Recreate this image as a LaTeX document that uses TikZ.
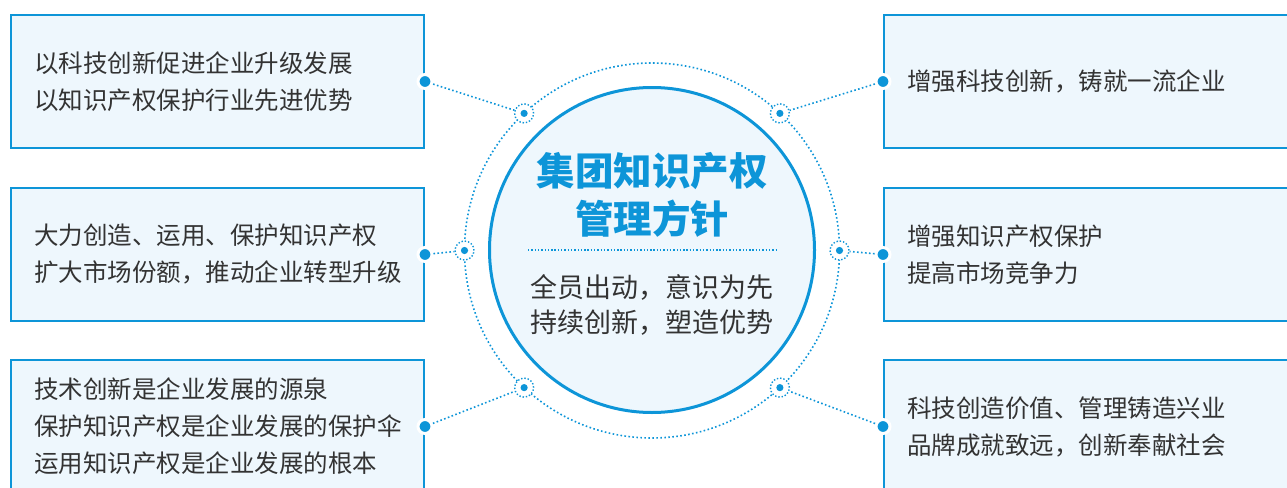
\documentclass[tikz,border=0pt]{standalone}
\usepackage{fontspec}
\setmainfont{Noto Sans CJK SC}
\usepackage{xcolor}
\usetikzlibrary{positioning}
\definecolor{ipblue}{HTML}{0D95D8}
\definecolor{ipfill}{HTML}{EEF7FD}
\definecolor{iptext}{HTML}{333333}

\begin{document}
\begin{tikzpicture}[x=1pt, y=-1pt,
    infobox/.style={draw=ipblue, line width=2pt, fill=ipfill, minimum
      width=413pt, minimum height=133pt, text width=367pt, inner xsep=23pt,
      align=left, text=iptext, font=\fontsize{24.5}{37}\selectfont},
    core/.style={circle, draw=ipblue, line width=3pt, fill=ipfill,
      minimum size=325pt, inner sep=0pt},
    ring/.style={circle, draw=ipblue, line width=1.6pt, dash pattern=on
      1.6pt off 2.4pt, minimum size=375pt, inner sep=0pt, outer sep=0pt},
    hub/.style={circle, draw=ipblue, line width=1.4pt, dash pattern=on
      1.4pt off 1.9pt, fill=white, minimum size=19pt, inner sep=0pt},
    pindot/.style={circle, fill=ipblue, draw=white, line width=3pt,
      minimum size=14pt, inner sep=0pt},
    link/.style={ipblue, line width=1.6pt, dash pattern=on 1.6pt off 2.4pt},
    sepline/.style={ipblue, line width=1.4pt, dash pattern=on 1.4pt off 1.9pt},
    title/.style={align=center, text=ipblue, font=\bfseries\fontsize{38.5}{48}\selectfont},
    motto/.style={align=center, text=iptext, font=\fontsize{27}{35}\selectfont}
  ]
  \clip (0,0) rectangle (1287,487);

  % left column
  \node[infobox, anchor=north west] (lt) at (10,14)
    {以科技创新促进企业升级发展\\以知识产权保护行业先进优势};
  \node[infobox, below=38pt of lt] (lm)
    {大力创造、运用、保护知识产权\\扩大市场份额，推动企业转型升级};
  \node[infobox, below=37pt of lm] (lb)
    {技术创新是企业发展的源泉\\保护知识产权是企业发展的保护伞\\运用知识产权是企业发展的根本};

  % right column
  \node[infobox, anchor=north west] (rt) at (883,14)
    {增强科技创新，铸就一流企业};
  \node[infobox, below=38pt of rt] (rm)
    {增强知识产权保护\\提高市场竞争力};
  \node[infobox, below=37pt of rm] (rb)
    {科技创造价值、管理铸造兴业\\品牌成就致远，创新奉献社会};

  % centre
  \node[ring] (ring) at (652,250.5) {};
  \node[core] (core) at (652,250) {};
  \node[title] (title) at (652,195) {集团知识产权\\管理方针};
  \coordinate (sepl) at (528,250);
  \coordinate (sepr) at (778,250);
  \draw[sepline] (sepl) -- (sepr);
  \node[motto] (motto) at (652,305) {全员出动，意识为先\\持续创新，塑造优势};

  % hubs on the ring and dots on the boxes
  \foreach \name/\ang in {hlt/133, hlm/180, hlb/227, hrt/47, hrm/0, hrb/313}
    \node[hub] (\name) at (ring.\ang) {};
  \node[pindot] (dlt) at (lt.east) {};
  \node[pindot] (dlm) at (lm.east) {};
  \node[pindot] (dlb) at (lb.east) {};
  \node[pindot] (drt) at (rt.west) {};
  \node[pindot] (drm) at (rm.west) {};
  \node[pindot] (drb) at (rb.west) {};

  \foreach \a/\b in {dlt/hlt, dlm/hlm, dlb/hlb, drt/hrt, drm/hrm, drb/hrb}
    \draw[link] (\a) -- (\b);
  \foreach \name in {hlt, hlm, hlb, hrt, hrm, hrb}
    \fill[ipblue] (\name) circle (3.6);
\end{tikzpicture}
\end{document}
